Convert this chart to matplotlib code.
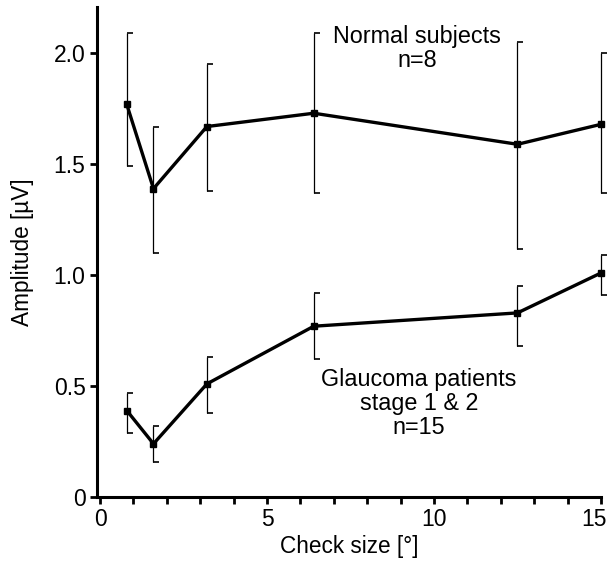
import numpy as np
import matplotlib
matplotlib.use("Agg")
import matplotlib.pyplot as plt
from matplotlib.path import Path
from matplotlib.transforms import ScaledTranslation

plt.rcParams['font.family'] = ['Liberation Sans', 'DejaVu Sans']

# check sizes (degrees)
check_size = [0.8, 1.6, 3.2, 6.4, 12.5, 15.0]

# normal subjects, n=8
normal_mean = [1.77, 1.39, 1.67, 1.73, 1.59, 1.68]
normal_hi = [2.09, 1.67, 1.95, 2.09, 2.05, 2.00]
normal_lo = [1.49, 1.10, 1.38, 1.37, 1.12, 1.37]

# glaucoma patients stage 1 & 2, n=15
glauc_mean = [0.39, 0.24, 0.51, 0.77, 0.83, 1.01]
glauc_hi = [0.47, 0.32, 0.63, 0.92, 0.95, 1.09]
glauc_lo = [0.29, 0.16, 0.38, 0.62, 0.68, 0.91]

# cap marker: short horizontal stroke sticking out to the right ("[" shape)
cap = Path([(0, 0), (1, 0)], [Path.MOVETO, Path.LINETO])

fig = plt.figure(figsize=(6.12, 5.61), dpi=100)
ax = fig.add_axes([0.158, 0.114, 0.824, 0.874])

for mean, lo, hi in [(normal_mean, normal_lo, normal_hi),
                     (glauc_mean, glauc_lo, glauc_hi)]:
    ax.vlines(check_size, lo, hi, color='black', lw=0.9, clip_on=False)
    ax.plot(check_size, lo, ls='none', marker=cap, ms=9, mec='black', mew=1.2,
            clip_on=False)
    ax.plot(check_size, hi, ls='none', marker=cap, ms=9, mec='black', mew=1.2,
            clip_on=False)
    ax.plot(check_size, mean, color='black', lw=2.4, marker='s', ms=5,
            clip_on=False)

ax.set_xlim(-0.1, 15)
ax.set_ylim(0, 2.21)
ax.set_xticks([0, 5, 10, 15])
ax.set_xticks(np.arange(0, 16, 1), minor=True)
ax.set_yticks([0, 0.5, 1.0, 1.5, 2.0])
ax.set_yticklabels(['0', '0.5', '1.0', '1.5', '2.0'])

for s in ['top', 'right']:
    ax.spines[s].set_visible(False)
for s in ['left', 'bottom']:
    ax.spines[s].set_linewidth(2.2)

ax.tick_params(axis='both', which='major', length=5, width=2, labelsize=16.5, pad=3)
ax.tick_params(axis='x', which='minor', length=5, width=2)

# keep the "15" label inside the figure edge
last = ax.get_xticklabels()[-1]
last.set_transform(last.get_transform() + ScaledTranslation(-5 / 72, 0, fig.dpi_scale_trans))

ax.set_xlabel('Check size [°]', fontsize=16.3, labelpad=3)
ax.set_ylabel('Amplitude [µV]', fontsize=16.3, labelpad=14)

ax.text(9.5, 2.02, 'Normal subjects\nn=8', ha='center', va='center',
        fontsize=16.8, linespacing=1.05)
ax.text(9.55, 0.42, 'Glaucoma patients\nstage 1 & 2\nn=15', ha='center',
        va='center', fontsize=16.8, linespacing=1.05)

fig.savefig('out.png', dpi=100)
